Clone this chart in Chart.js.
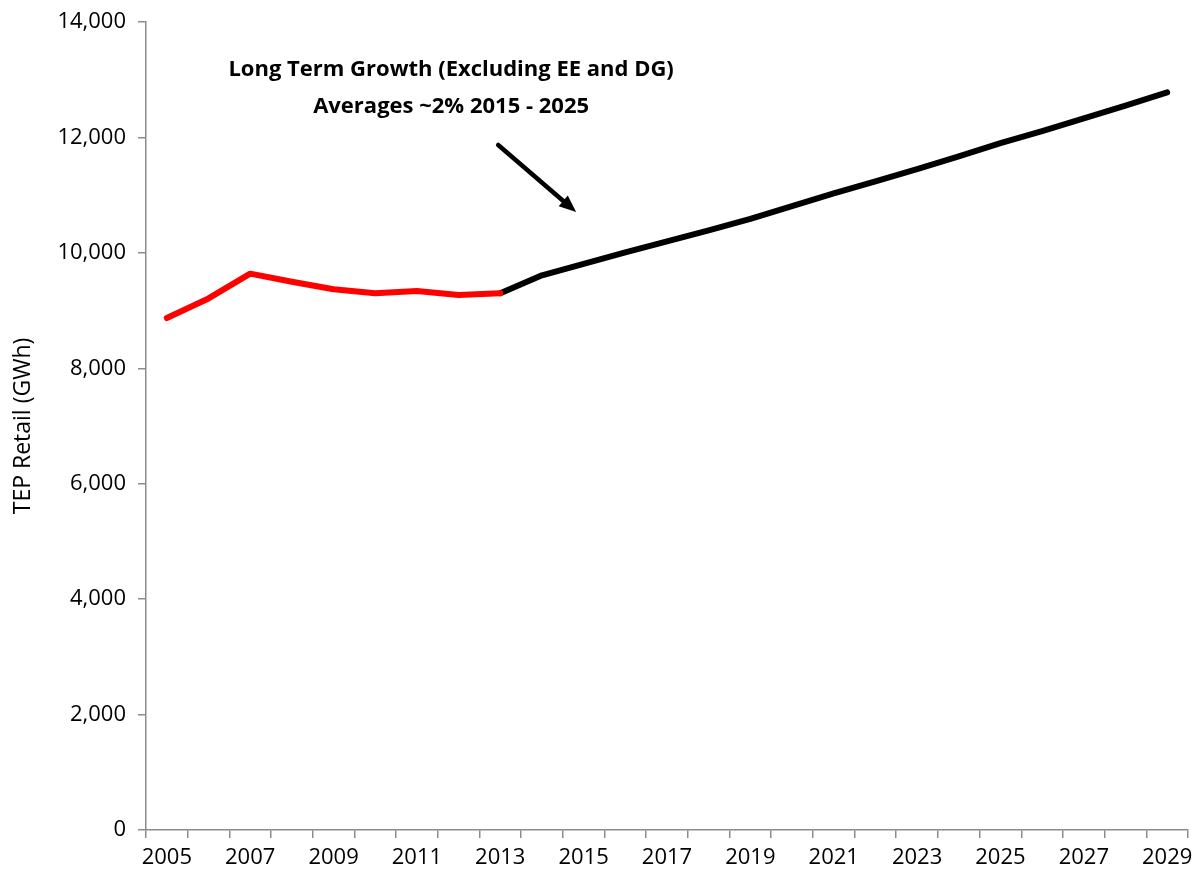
<!DOCTYPE html>
<html>
<head>
<meta charset="utf-8">
<script src="https://cdn.jsdelivr.net/npm/chart.js@4/dist/chart.umd.min.js"></script>
<style>
  html, body { margin: 0; padding: 0; background: #fff; }
  #wrap { width: 1202px; height: 878px; }
</style>
</head>
<body>
<div id="wrap"><canvas id="c" width="1202" height="878"></canvas></div>
<script>
// Years on the category axis
const years = ['2005','2006','2007','2008','2009','2010','2011','2012','2013','2014','2015','2016',
  '2017','2018','2019','2020','2021','2022','2023','2024','2025','2026','2027','2028','2029'];

// Historical retail sales (GWh), 2005-2013
const actualSales = [8870, 9210, 9640, 9500, 9370, 9300, 9340, 9270, 9300,
  null, null, null, null, null, null, null, null, null, null, null, null, null, null, null, null];

// Forecast retail sales (GWh), 2013-2029
const forecastSales = [null, null, null, null, null, null, null, null, 9300,
  9610, 9810, 10010, 10200, 10390, 10590, 10810, 11030, 11240, 11450, 11670, 11900, 12110, 12330, 12550, 12780];

// Y axis tick values
const yTicks = [0, 2000, 4000, 6000, 8000, 10000, 12000, 14000];

// Callout text
const calloutLines = ['Long Term Growth (Excluding EE and DG)', 'Averages ~2% 2015 - 2025'];

const FONT = "'Open Sans', 'DejaVu Sans', sans-serif";
const AXIS_GREY = '#8c8c8c';

// Callout: two bold lines with an arrow pointing to the forecast line
const calloutPlugin = {
  id: 'callout',
  afterDraw(chart) {
    const { ctx, scales: { x, y } } = chart;
    ctx.save();
    ctx.fillStyle = '#000';
    ctx.font = 'bold 22px ' + FONT;
    ctx.textAlign = 'center';
    ctx.textBaseline = 'middle';
    const cx = x.getPixelForValue(6.82);
    ctx.fillText(calloutLines[0], cx, y.getPixelForValue(13170));
    ctx.fillText(calloutLines[1], cx, y.getPixelForValue(12540));

    const x1 = x.getPixelForValue(7.95), y1 = y.getPixelForValue(11869);
    const x2 = x.getPixelForValue(9.82), y2 = y.getPixelForValue(10708);
    const ang = Math.atan2(y2 - y1, x2 - x1);
    const headLen = 17, headHalf = 7;
    ctx.strokeStyle = '#000';
    ctx.lineWidth = 4.5;
    ctx.lineCap = 'round';
    ctx.beginPath();
    ctx.moveTo(x1, y1);
    ctx.lineTo(x2 - Math.cos(ang) * (headLen - 2), y2 - Math.sin(ang) * (headLen - 2));
    ctx.stroke();
    ctx.beginPath();
    ctx.moveTo(x2, y2);
    ctx.lineTo(x2 - Math.cos(ang) * headLen + Math.sin(ang) * headHalf,
               y2 - Math.sin(ang) * headLen - Math.cos(ang) * headHalf);
    ctx.lineTo(x2 - Math.cos(ang) * headLen - Math.sin(ang) * headHalf,
               y2 - Math.sin(ang) * headLen + Math.cos(ang) * headHalf);
    ctx.closePath();
    ctx.fill();
    ctx.restore();
  }
};

new Chart(document.getElementById('c'), {
  type: 'line',
  data: {
    labels: years,
    datasets: [
      { label: 'Actual', data: actualSales, borderColor: '#ff0000', borderWidth: 6,
        pointRadius: 0, tension: 0, borderCapStyle: 'round', borderJoinStyle: 'round', spanGaps: false },
      { label: 'Forecast', data: forecastSales, borderColor: '#000000', borderWidth: 6,
        pointRadius: 0, tension: 0, borderCapStyle: 'round', borderJoinStyle: 'round', spanGaps: false }
    ]
  },
  options: {
    responsive: false,
    devicePixelRatio: 1,
    animation: false,
    layout: { padding: { top: 22, right: 14, left: 0, bottom: 0 } },
    plugins: { legend: { display: false }, tooltip: { enabled: false } },
    scales: {
      x: {
        type: 'category',
        offset: true,
        border: { color: AXIS_GREY, width: 1.5 },
        grid: { display: true, offset: true, drawOnChartArea: false, color: AXIS_GREY, lineWidth: 1.5, tickLength: 8 },
        ticks: {
          autoSkip: false, maxRotation: 0, color: '#000', padding: 7,
          font: { family: FONT, size: 22 },
          callback: function(val, i) { return i % 2 === 0 ? this.getLabelForValue(val) : ''; }
        },
        afterFit(scale) { scale.height = 48; }
      },
      y: {
        min: 0, max: 14000,
        afterBuildTicks(scale) { scale.ticks = yTicks.map(v => ({ value: v })); },
        border: { color: AXIS_GREY, width: 1.5 },
        grid: { display: true, drawOnChartArea: false, color: AXIS_GREY, lineWidth: 1.5, tickLength: 8 },
        ticks: {
          color: '#000', padding: 12,
          font: { family: FONT, size: 22 },
          callback: v => v.toLocaleString('en-US')
        },
        title: { display: true, text: 'TEP Retail (GWh)', color: '#000',
          font: { family: FONT, size: 23 }, padding: { top: 10, bottom: 16 } },
        afterFit(scale) { scale.width = 146; scale.paddingTop = 0; scale.paddingBottom = 0; }
      }
    }
  },
  plugins: [calloutPlugin]
});
</script>
</body>
</html>
